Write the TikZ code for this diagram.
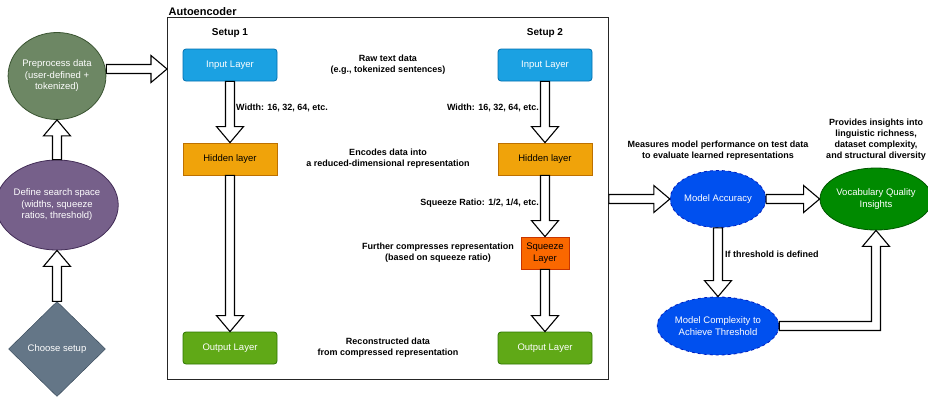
\documentclass[tikz,border=0pt]{standalone}
\usepackage{fontspec}
\setmainfont{Liberation Sans}
\usetikzlibrary{shapes.geometric,calc}

\definecolor{prefill}{HTML}{6D8764}
\definecolor{preline}{HTML}{3A5431}
\definecolor{deffill}{HTML}{76608A}
\definecolor{defline}{HTML}{432D57}
\definecolor{chfill}{HTML}{647687}
\definecolor{chline}{HTML}{314354}
\definecolor{infill}{HTML}{1BA1E2}
\definecolor{inline}{HTML}{006EAF}
\definecolor{hidfill}{HTML}{F0A30A}
\definecolor{hidline}{HTML}{BD7000}
\definecolor{outfill}{HTML}{60A917}
\definecolor{outline}{HTML}{2D7600}
\definecolor{sqfill}{HTML}{FA6800}
\definecolor{sqline}{HTML}{C73500}
\definecolor{accfill}{HTML}{0050EF}
\definecolor{accline}{HTML}{001DBC}
\definecolor{vocfill}{HTML}{008A00}
\definecolor{vocline}{HTML}{005700}

% hollow block arrows between anchors
\newcommand{\blkdown}[2]{\draw[blk] let \p1=(#1), \p2=(#2) in
  (\x1-4.5pt,\y1) -- (\x1-4.5pt,\y2+16pt) -- (\x1-13.5pt,\y2+16pt) -- (\x1,\y2)
  -- (\x1+13.5pt,\y2+16pt) -- (\x1+4.5pt,\y2+16pt) -- (\x1+4.5pt,\y1) -- cycle;}
\newcommand{\blkup}[2]{\draw[blk] let \p1=(#1), \p2=(#2) in
  (\x1-4.5pt,\y1) -- (\x1-4.5pt,\y2-16pt) -- (\x1-13.5pt,\y2-16pt) -- (\x1,\y2)
  -- (\x1+13.5pt,\y2-16pt) -- (\x1+4.5pt,\y2-16pt) -- (\x1+4.5pt,\y1) -- cycle;}
\newcommand{\blkright}[2]{\draw[blk] let \p1=(#1), \p2=(#2) in
  (\x1,\y2+4.5pt) -- (\x2-16pt,\y2+4.5pt) -- (\x2-16pt,\y2+13.5pt) -- (\x2,\y2)
  -- (\x2-16pt,\y2-13.5pt) -- (\x2-16pt,\y2-4.5pt) -- (\x1,\y2-4.5pt) -- cycle;}
\newcommand{\blkelbow}[2]{\draw[blk] let \p1=(#1), \p2=(#2) in
  (\x1,\y1+4.5pt) -- (\x2-4.5pt,\y1+4.5pt) -- (\x2-4.5pt,\y2-16pt) -- (\x2-13.5pt,\y2-16pt)
  -- (\x2,\y2) -- (\x2+13.5pt,\y2-16pt) -- (\x2+4.5pt,\y2-16pt) -- (\x2+4.5pt,\y1-4.5pt)
  -- (\x1,\y1-4.5pt) -- cycle;}

\begin{document}
\begin{tikzpicture}[x=1pt,y=-1pt,
    blk/.style={draw=black,fill=white,line width=1.1pt,line join=miter},
    nodefont/.style={font=\fontsize{9.5}{11.5}\selectfont},
    note/.style={font=\bfseries\fontsize{9}{11}\selectfont,align=center,inner sep=0pt},
    bubble/.style={ellipse,nodefont,align=center,inner sep=0pt,text=white,line width=0.8pt},
    layer/.style={rectangle,nodefont,minimum width=94pt,minimum height=32pt,inner sep=0pt,line width=0.8pt,align=center},
    setup/.style={font=\bfseries\fontsize{10}{12}\selectfont}]
        \useasboundingbox (0,0) rectangle (928,399);

        % left column
        \node[bubble,fill=prefill,draw=preline,minimum width=95pt,minimum height=87pt] (pre) at (57,76) {Preprocess data\\(user-defined +\\tokenized)};
        \node[bubble,fill=deffill,draw=defline,minimum width=95pt,minimum height=90pt] (def) at (57,205) {Define search space\\(widths, squeeze\\ratios, threshold)};
        \node[diamond,nodefont,fill=chfill,draw=chline,text=white,minimum width=97pt,minimum height=95pt,inner sep=0pt,aspect=1] (choose) at (57,349) {Choose setup};

        % autoencoder frame
        \node[draw=black!85,line width=0.8pt,minimum width=441pt,minimum height=362pt,anchor=north west,inner sep=0pt] (ae) at (167,17) {};
        \node[font=\bfseries\fontsize{11}{13}\selectfont,anchor=south west,inner sep=1.5pt] (aetitle) at (ae.north west) {Autoencoder};
        \coordinate (aein) at (167,69);

        \node[setup] (s1) at (230,33) {Setup 1};
        \node[setup] (s2) at (545,33) {Setup 2};

        \node[layer,fill=infill,draw=inline,text=white,rounded corners=3pt] (in1) at (230,65) {Input Layer};
        \node[layer,fill=hidfill,draw=hidline] (hid1) at (230,159) {Hidden layer};
        \node[layer,fill=outfill,draw=outline,text=white,rounded corners=3pt] (out1) at (230,348) {Output Layer};

        \node[layer,fill=infill,draw=inline,text=white,rounded corners=3pt] (in2) at (545,65) {Input Layer};
        \node[layer,fill=hidfill,draw=hidline] (hid2) at (545,159) {Hidden layer};
        \node[layer,fill=sqfill,draw=sqline,minimum width=48pt] (sq2) at (545,253) {Squeeze\\Layer};
        \node[layer,fill=outfill,draw=outline,text=white,rounded corners=3pt] (out2) at (545,348) {Output Layer};

        \node[note,anchor=west] (wid1) at (236,108) {Width: 16, 32, 64, etc.};
        \node[note,anchor=east] (wid2) at (539,108) {Width: 16, 32, 64, etc.};
        \node[note] (raw) at (388,65) {Raw text data\\(e.g., tokenized sentences)};
        \node[note] (enc) at (388,159) {Encodes data into\\a reduced-dimensional representation};
        \node[note,anchor=east] (ratio) at (539,203) {Squeeze Ratio: 1/2, 1/4, etc.};
        \node[note] (further) at (438,253) {Further compresses representation\\(based on squeeze ratio)};
        \node[note] (recon) at (388,348) {Reconstructed data\\from compressed representation};

        % evaluation
        \node[bubble,fill=accfill,draw=accline,dashed,minimum width=94pt,minimum height=57pt] (acc) at (718,199) {Model Accuracy};
        \node[bubble,fill=vocfill,draw=vocline,minimum width=96pt,minimum height=62pt] (voc) at (876,199) {Vocabulary Quality\\Insights};
        \node[bubble,fill=accfill,draw=accline,dashed,minimum width=110pt,minimum height=58pt] (cplx) at (718,326) {Model Complexity to\\Achieve Threshold};

        \node[note] (meas) at (718,151) {Measures model performance on test data\\to evaluate learned representations};
        \node[note] (prov) at (876,140) {Provides insights into\\linguistic richness,\\dataset complexity,\\and structural diversity};
        \node[note,anchor=west] (thr) at (725,254) {If threshold is defined};

        % arrows
        \blkup{choose.north}{def.south}
        \blkup{def.north}{pre.south}
        \blkright{pre.east}{aein}
        \blkdown{in1.south}{hid1.north}
        \blkdown{hid1.south}{out1.north}
        \blkdown{in2.south}{hid2.north}
        \blkdown{hid2.south}{sq2.north}
        \blkdown{sq2.south}{out2.north}
        \blkright{ae.east}{acc.west}
        \blkright{acc.east}{voc.west}
        \blkdown{acc.south}{cplx.north}
        \blkelbow{cplx.east}{voc.south}
\end{tikzpicture}
\end{document}
